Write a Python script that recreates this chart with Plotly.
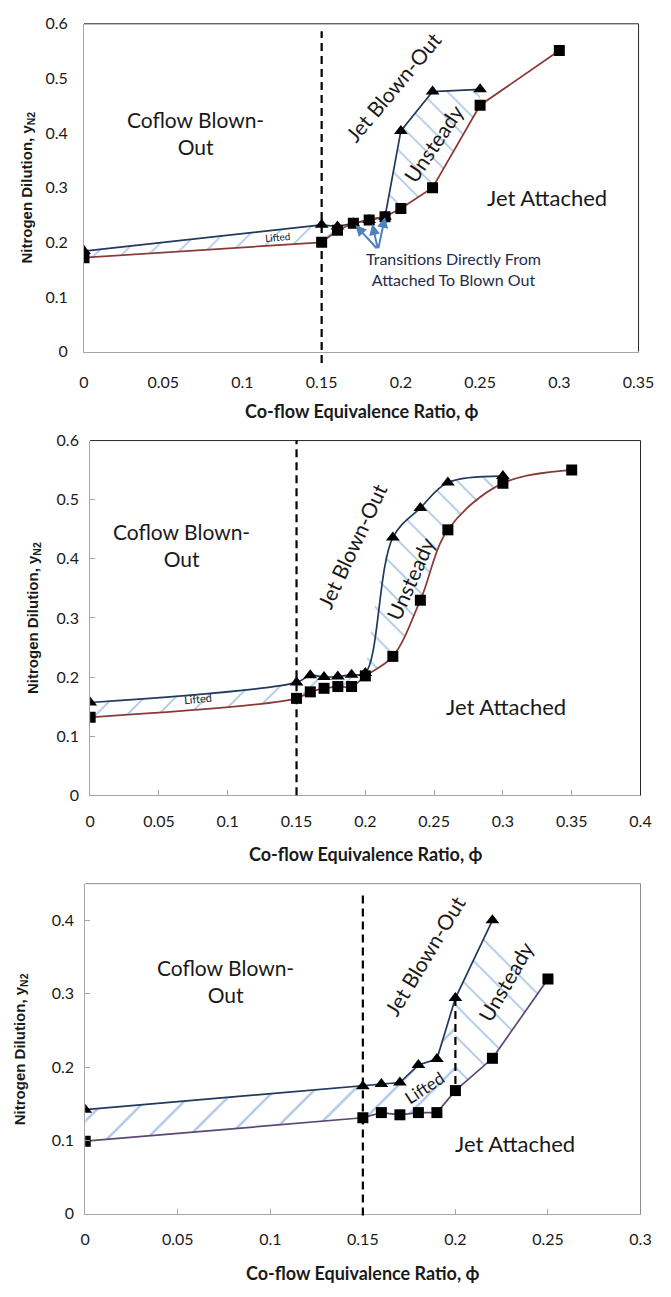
import plotly.graph_objects as go

# ---- Data: flame stability boundaries (attached limit = squares, blow-out limit = triangles)
# Panel A
phi_a_attached = [0, 0.15, 0.16, 0.17, 0.18, 0.19, 0.20, 0.22, 0.25, 0.30]
yn2_a_attached = [0.172, 0.200, 0.222, 0.235, 0.241, 0.247, 0.262, 0.300, 0.451, 0.551]
phi_a_blowout = [0, 0.15, 0.16, 0.17, 0.18, 0.19, 0.20, 0.22, 0.25]
yn2_a_blowout = [0.184, 0.232, 0.229, 0.235, 0.241, 0.247, 0.404, 0.476, 0.480]

# Panel B
phi_b_attached = [0, 0.15, 0.16, 0.17, 0.18, 0.19, 0.20, 0.22, 0.24, 0.26, 0.30, 0.35]
yn2_b_attached = [0.132, 0.164, 0.175, 0.181, 0.184, 0.184, 0.202, 0.235, 0.330, 0.449, 0.528, 0.550]
phi_b_blowout = [0, 0.15, 0.16, 0.17, 0.18, 0.19, 0.20, 0.22, 0.24, 0.26, 0.30]
yn2_b_blowout = [0.157, 0.191, 0.203, 0.200, 0.201, 0.204, 0.207, 0.436, 0.486, 0.529, 0.540]

# Panel C
phi_c_attached = [0, 0.15, 0.16, 0.17, 0.18, 0.19, 0.20, 0.22, 0.25]
yn2_c_attached = [0.099, 0.131, 0.138, 0.135, 0.138, 0.138, 0.168, 0.212, 0.320]
phi_c_blowout = [0, 0.15, 0.16, 0.17, 0.18, 0.19, 0.20, 0.22]
yn2_c_blowout = [0.142, 0.174, 0.177, 0.179, 0.203, 0.211, 0.294, 0.400]

# Tick labels
x_ticks_a = [0, 0.05, 0.1, 0.15, 0.2, 0.25, 0.3, 0.35]
x_ticks_b = [0, 0.05, 0.1, 0.15, 0.2, 0.25, 0.3, 0.35, 0.4]
x_ticks_c = [0, 0.05, 0.1, 0.15, 0.2, 0.25, 0.3]
y_ticks_ab = [0, 0.1, 0.2, 0.3, 0.4, 0.5, 0.6]
y_ticks_c = [0, 0.1, 0.2, 0.3, 0.4]

# Regime boundaries used for the hatched bands
lifted_end = [0.19, 0.20, 0.20]
unsteady_end = [0.25, 0.30, 0.25]
dilution_line = 0.15

FONT = "Lato, 'Open Sans', sans-serif"
TXT = "#1a1a1a"
NAVY = "#22385c"
HATCH = "#5b8fd0"
lower_colors = ["#8a3a35", "#8a3a35", "#5c4873"]

panels = [
    dict(xa="x", ya="y", xd=[0.1215, 0.9747], yd=[0.7327, 0.9892], xr=[0, 0.35], yr=[0, 0.6],
         xt=x_ticks_a, yt=y_ticks_ab, ticks="", spline=False,
         lo=(phi_a_attached, yn2_a_attached), up=(phi_a_blowout, yn2_a_blowout),
         split=lifted_end[0], end=unsteady_end[0], hatch=(19, 19), frame="#262626"),
    dict(xa="x2", ya="y2", xd=[0.131, 0.9777], yd=[0.3855, 0.6631], xr=[0, 0.4], yr=[0, 0.6],
         xt=x_ticks_b, yt=y_ticks_ab, ticks="inside", spline=True,
         lo=(phi_b_attached, yn2_b_attached), up=(phi_b_blowout, yn2_b_blowout),
         split=lifted_end[1], end=unsteady_end[1], hatch=(22, 21), frame="#262626"),
    dict(xa="x3", ya="y3", xd=[0.1234, 0.9777], yd=[0.058, 0.3164], xr=[0, 0.3], yr=[0, 0.45],
         xt=x_ticks_c, yt=y_ticks_c, ticks="inside", spline=False,
         lo=(phi_c_attached, yn2_c_attached), up=(phi_c_blowout, yn2_c_blowout),
         split=lifted_end[2], end=unsteady_end[2], hatch=(28, 22), frame="#8c8c8c"),
]

fig = go.Figure()


def segment(xs, ys, lo_x, hi_x):
    pts = [(x, y) for x, y in zip(xs, ys) if lo_x <= x <= hi_x]
    return [p[0] for p in pts], [p[1] for p in pts]


for i, p in enumerate(panels):
    shape = "spline" if p["spline"] else "linear"
    lx, ly = p["lo"]
    ux, uy = p["up"]
    # hatched bands: "Lifted" (/) and "Unsteady" (\)
    bands = [(0.0, p["split"], "/", p["hatch"][0]), (p["split"], p["end"], "\\", p["hatch"][1])]
    for lo_x, hi_x, pat, size in bands:
        bx, by = segment(lx, ly, lo_x, hi_x)
        tx, ty = segment(ux, uy, lo_x, hi_x)
        fig.add_trace(go.Scatter(x=bx, y=by, mode="lines", line=dict(width=0, shape=shape),
                                 xaxis=p["xa"], yaxis=p["ya"], hoverinfo="skip", showlegend=False))
        fig.add_trace(go.Scatter(x=tx, y=ty, mode="lines", line=dict(width=0, shape=shape),
                                 fill="tonexty", fillcolor="rgba(0,0,0,0)",
                                 fillpattern=dict(shape=pat, size=size, solidity=0.085,
                                                  fgcolor=HATCH, bgcolor="rgba(0,0,0,0)"),
                                 xaxis=p["xa"], yaxis=p["ya"], hoverinfo="skip", showlegend=False))
    # blow-out limit (triangles)
    fig.add_trace(go.Scatter(x=ux, y=uy, mode="lines+markers",
                             line=dict(color=NAVY, width=1.7, shape=shape),
                             marker=dict(symbol="triangle-up", size=12, color="black"),
                             xaxis=p["xa"], yaxis=p["ya"], showlegend=False))
    # attached limit (squares)
    fig.add_trace(go.Scatter(x=lx, y=ly, mode="lines+markers",
                             line=dict(color=lower_colors[i], width=1.7, shape=shape),
                             marker=dict(symbol="square", size=11, color="black"),
                             xaxis=p["xa"], yaxis=p["ya"], showlegend=False))

layout = dict(width=671, height=1297, margin=dict(l=0, r=0, t=0, b=0),
              paper_bgcolor="white", plot_bgcolor="white", showlegend=False)

shapes = []
annotations = []
for i, p in enumerate(panels):
    sfx = "" if i == 0 else str(i + 1)
    layout["xaxis" + sfx] = dict(
        domain=p["xd"], range=p["xr"], anchor=p["ya"], tickvals=p["xt"],
        ticktext=[f"{v:g}" for v in p["xt"]], showline=True, linecolor="#a6a6a6", linewidth=1,
        ticks=p["ticks"], ticklen=5, tickcolor="#a6a6a6", showgrid=False, zeroline=False,
        ticklabelstandoff=16 if p["ticks"] == "" else 11,
        tickfont=dict(family=FONT, size=16, color=TXT), fixedrange=True)
    layout["yaxis" + sfx] = dict(
        domain=p["yd"], range=p["yr"], anchor=p["xa"], tickvals=p["yt"],
        ticktext=[f"{v:g}" for v in p["yt"]], showline=True, linecolor="#a6a6a6", linewidth=1,
        ticks=p["ticks"], ticklen=5, tickcolor="#a6a6a6", showgrid=False, zeroline=False,
        ticklabelstandoff=12 if p["ticks"] == "" else 7,
        tickfont=dict(family=FONT, size=16, color=TXT), fixedrange=True)
    # top and right frame
    shapes.append(dict(type="line", xref=p["xa"] + " domain", yref=p["ya"] + " domain",
                       x0=0, x1=1, y0=1, y1=1, line=dict(color=p["frame"], width=1)))
    shapes.append(dict(type="line", xref=p["xa"] + " domain", yref=p["ya"] + " domain",
                       x0=1, x1=1, y0=0, y1=1, line=dict(color=p["frame"], width=1)))

# vertical dashed line at phi = 0.15 in each panel
dash_spans = [(-0.035, 0.977), (0.0, 1.0), (-0.005, 0.975)]
for p, (y0, y1) in zip(panels, dash_spans):
    shapes.append(dict(type="line", xref=p["xa"], yref=p["ya"] + " domain",
                       x0=dilution_line, x1=dilution_line, y0=y0, y1=y1,
                       line=dict(color="black", width=2.2, dash="8px,5px")))
# dashed lifted/unsteady divider in panel C
k_up = phi_c_blowout.index(0.20)
k_lo = phi_c_attached.index(0.20)
shapes.append(dict(type="line", xref="x3", yref="y3", x0=0.20, x1=0.20,
                   y0=yn2_c_blowout[k_up], y1=yn2_c_attached[k_lo],
                   line=dict(color="black", width=2.2, dash="8px,5px")))


def label(text, x, y, xa, ya, size=21, angle=0, color=TXT):
    annotations.append(dict(text=text, x=x, y=y, xref=xa, yref=ya, showarrow=False,
                            textangle=angle, font=dict(family=FONT, size=size, color=color),
                            xanchor="center", yanchor="middle"))


# panel A labels
label("Coflow Blown-<br>Out", 0.0706, 0.40, "x", "y")
label("Jet Blown-Out", 0.1953, 0.4846, "x", "y", angle=-50)
label("Unsteady", 0.2202, 0.3818, "x", "y", angle=-56)
label("Jet Attached", 0.2923, 0.2826, "x", "y", size=22)
label("Lifted", 0.1224, 0.2105, "x", "y", size=10, angle=-5)
label("Transitions Directly From<br>Attached To Blown Out", 0.2332, 0.152, "x", "y",
      size=16, color="#1f2d4d")

# panel B labels
label("Coflow Blown-<br>Out", 0.0664, 0.424, "x2", "y2")
label("Jet Blown-Out", 0.1902, 0.4228, "x2", "y2", angle=-65)
label("Unsteady", 0.2325, 0.367, "x2", "y2", angle=-66)
label("Jet Attached", 0.3019, 0.1505, "x2", "y2", size=22)
label("Lifted", 0.0785, 0.163, "x2", "y2", size=11, angle=-5)

# panel C labels
label("Coflow Blown-<br>Out", 0.0756, 0.3168, "x3", "y3")
label("Jet Blown-Out", 0.1833, 0.3522, "x3", "y3", angle=-59)
label("Unsteady", 0.2271, 0.3163, "x3", "y3", angle=-60)
label("Jet Attached", 0.2323, 0.0965, "x3", "y3", size=22)
label("Lifted", 0.1833, 0.1719, "x3", "y3", size=17, angle=-33)

# arrows pointing to direct attached-to-blown-out transitions
arrow_tail = (0.1856, 0.1865)
arrow_heads = [(0.1713, 0.2316), (0.1819, 0.2334), (0.1900, 0.2466)]
for hx, hy in arrow_heads:
    annotations.append(dict(x=hx, y=hy, ax=arrow_tail[0], ay=arrow_tail[1], xref="x", yref="y",
                            axref="x", ayref="y", text="", showarrow=True, arrowhead=2,
                            arrowsize=1.1, arrowwidth=2, arrowcolor="#4f81bd"))

# axis titles
x_title_y = [1 - 407 / 1297, 1 - 857 / 1297, 1 - 1282 / 1297]
y_title_x = [23.6 / 671, 30 / 671, 16 / 671]
for p, ty, tx in zip(panels, x_title_y, y_title_x):
    annotations.append(dict(text="<b>Co-flow Equivalence Ratio, ϕ</b>", xref=p["xa"] + " domain",
                            yref="paper", x=0.5, y=ty, showarrow=False, xanchor="center",
                            yanchor="middle", font=dict(family=FONT, size=18, color=TXT)))
    annotations.append(dict(text="<b>Nitrogen Dilution, y<sub>N2</sub></b>", xref="paper",
                            yref=p["ya"] + " domain", x=tx, y=0.5, showarrow=False,
                            textangle=-90, xanchor="center", yanchor="middle",
                            font=dict(family="'Liberation Sans', Arial, sans-serif", size=15,
                                      color=TXT)))

layout["shapes"] = shapes
layout["annotations"] = annotations
fig.update_layout(**layout)
fig.write_html("out.html")
